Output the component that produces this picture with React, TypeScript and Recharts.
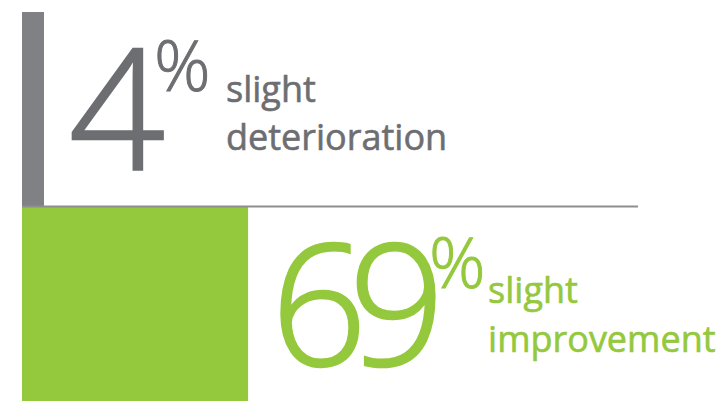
import { BarChart, Bar, XAxis, YAxis, Cell, LabelList, ReferenceLine } from 'recharts';

const categories = ['deterioration', 'improvement'];
const shares = [4, 69];
const labelLines = [
  ['slight', 'deterioration'],
  ['slight', 'improvement'],
];

const data = categories.map((name, i) => ({ name, value: shares[i] }));

const BAR_COLORS = ['#808184', '#94c83d'];
const TEXT_COLORS = ['#6d6e71', '#94c83d'];

// per-row text placement, relative to the bar's right edge / top
const LAYOUT = [
  { numDx: 25, spacing: 0, pctDx: -11, pctDy: -79, labelDx: 182, lines: [90, 138] },
  { numDx: 23, spacing: -18, pctDx: 2, pctDy: -77, labelDx: 240, lines: [96, 145] },
];

const FONT = '"Open Sans", sans-serif';

function renderLabel(props: any) {
  const { x, y, width, index, value } = props;
  const right = x + width;
  const l = LAYOUT[index];
  const color = TEXT_COLORS[index];
  return (
    <g key={`lbl-${index}`}>
      <text
        x={right + l.numDx}
        y={y + 158}
        fill={color}
        stroke={color}
        strokeWidth={2.5}
        fontFamily={FONT}
        fontWeight={300}
        fontSize={168}
        letterSpacing={l.spacing}
      >
        {value}
        <tspan fontSize={70} dx={l.pctDx} dy={l.pctDy} letterSpacing={0} strokeWidth={1}>
          %
        </tspan>
      </text>
      {labelLines[index].map((line, i) => (
        <text
          key={line}
          x={right + l.labelDx}
          y={y + l.lines[i]}
          fill={color}
          stroke={color}
          strokeWidth={0.6}
          fontFamily={FONT}
          fontSize={36}
        >
          {line}
        </text>
      ))}
    </g>
  );
}

export default function App() {
  return (
    <div style={{ position: 'absolute', left: 0, top: 0, background: '#fff' }}>
      <BarChart
        width={722}
        height={401}
        data={data}
        layout="vertical"
        barCategoryGap={0}
        margin={{ top: 12, right: 84, bottom: 0, left: 22 }}
      >
        <XAxis type="number" domain={[0, 188]} hide />
        <YAxis type="category" dataKey="name" hide />
        <Bar dataKey="value" minPointSize={22} isAnimationActive={false}>
          {data.map((entry, index) => (
            <Cell key={`cell-${index}`} fill={BAR_COLORS[index]} />
          ))}
          <LabelList dataKey="value" content={renderLabel} />
        </Bar>
        <ReferenceLine y="improvement" position="start" stroke="#8e8e8e" strokeWidth={2} />
      </BarChart>
    </div>
  );
}
